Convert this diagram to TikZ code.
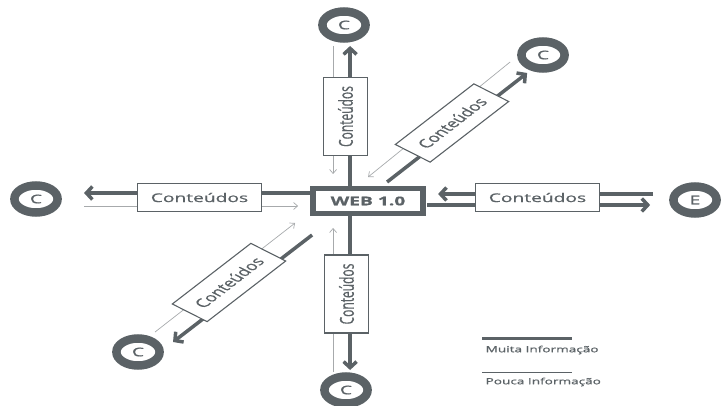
\documentclass[tikz,border=0pt]{standalone}
\usepackage{fontspec}
\setmainfont{Open Sans}[FakeBold=0.7]
\usetikzlibrary{arrows.meta}
\definecolor{dgray}{HTML}{5B6266}
\definecolor{lgray}{HTML}{A7AAAC}
\begin{document}
\begin{tikzpicture}[x=0.625pt,y=-1pt,xscale=1.6,transform shape,
  every node/.style={font=\fontsize{12}{14}\selectfont,text=dgray},
  cnode/.style={draw=dgray,circle,line width=8.5pt,fill=white,minimum size=27pt,inner sep=0pt},
  cbox/.style={draw=dgray,line width=1.1pt,fill=white,minimum width=78pt,minimum height=28pt,inner sep=0pt},
  muita/.style={dgray,line width=3.5pt,-{Straight Barb[length=6pt,width=13pt]}},
  pouca/.style={lgray,line width=0.7pt,-{Straight Barb[length=4pt,width=7pt]}}]
  \useasboundingbox (0,0) rectangle (723,406);
  % centre and end points
  \node[draw=dgray,line width=5.5pt,minimum width=69pt,minimum height=25pt,font=\fontsize{12}{14}\selectfont\bfseries] (web) at (368,201) {WEB 1.0};
  \node[cnode] (ct) at (344,25) {C};
  \node[cnode] (cr) at (543,55) {C};
  \node[cnode] (cl) at (36,199) {C};
  \node[cnode] (e) at (695,200) {E};
  \node[cnode] (cll) at (138,352) {C};
  \node[cnode] (cb) at (346,390) {C};
  % line ends
  \coordinate (t1) at (350,186); \coordinate (t2) at (350,46);
  \coordinate (t3) at (333,46);  \coordinate (t4) at (333,174);
  \coordinate (b1) at (350,216); \coordinate (b2) at (350,370);
  \coordinate (b3) at (333,372); \coordinate (b4) at (333,228);
  \coordinate (l1) at (310,193); \coordinate (l2) at (84,193);
  \coordinate (l3) at (84,206);  \coordinate (l4) at (298,206);
  \coordinate (r1) at (653,194); \coordinate (r2) at (438,194);
  \coordinate (r3) at (427,205); \coordinate (r4) at (650,205);
  \coordinate (u1) at (387,182); \coordinate (u2) at (527,73);
  \coordinate (u3) at (510,62);  \coordinate (u4) at (368,177);
  \coordinate (d1) at (312,235); \coordinate (d2) at (173,342);
  \coordinate (d3) at (155,332); \coordinate (d4) at (295,223);
  \draw[muita] (t1) -- (t2); \draw[pouca] (t3) -- (t4);
  \draw[muita] (b1) -- (b2); \draw[pouca] (b3) -- (b4);
  \draw[muita] (l1) -- (l2); \draw[pouca] (l3) -- (l4);
  \draw[muita] (r1) -- (r2); \draw[muita] (r3) -- (r4);
  \draw[muita] (u1) -- (u2); \draw[pouca] (u3) -- (u4);
  \draw[muita] (d1) -- (d2); \draw[pouca] (d3) -- (d4);
  % content boxes
  \node[cbox,rotate=90] (kt) at (345.5,116.5) {Conteúdos};
  \node[cbox,rotate=90] (kb) at (346.5,294) {Conteúdos};
  \node[cbox] (kl) at (199.5,197.5) {Conteúdos};
  \node[cbox] (kr) at (537.5,197.5) {Conteúdos};
  \node[cbox,rotate=51] (kur) at (452,123) {Conteúdos};
  \node[cbox,rotate=51] (kll) at (229,282.5) {Conteúdos};
  % legend
  \node[anchor=west,font=\fontsize{8.5}{10}\selectfont] (lm) at (480,350) {Muita Informação};
  \node[anchor=west,font=\fontsize{8.5}{10}\selectfont] (lp) at (480,382) {Pouca Informação};
  \coordinate (m1) at (482,338); \coordinate (m2) at (572,338);
  \coordinate (p1) at (482,372); \coordinate (p2) at (572,372);
  \draw[muita,-,line width=3pt] (m1) -- (m2);
  \draw[pouca,-,draw=dgray,line width=0.8pt] (p1) -- (p2);
\end{tikzpicture}
\end{document}
